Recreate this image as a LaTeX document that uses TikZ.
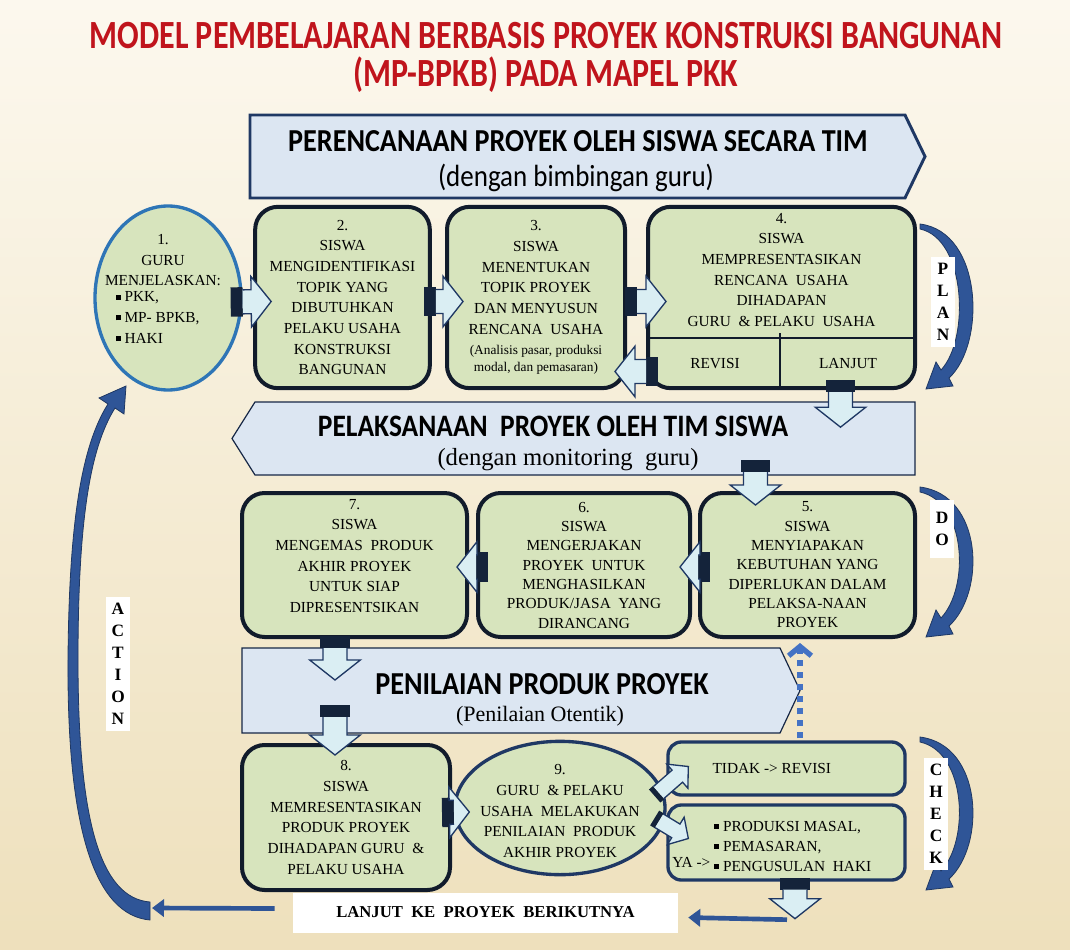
\documentclass[tikz,border=0pt]{standalone}
\usepackage{fontspec}
\setmainfont{Liberation Serif}
\newfontfamily\headfont[FakeStretch=0.88]{Carlito}
\newfontfamily\titlefont[FakeStretch=0.8]{Carlito}
\usetikzlibrary{calc,arrows.meta,shapes.geometric}

\definecolor{bgtop}{HTML}{FCF8EE}
\definecolor{bgbot}{HTML}{EEE0BC}
\definecolor{titlered}{HTML}{C0141C}
\definecolor{boxfill}{HTML}{D7E4BD}
\definecolor{boxline}{HTML}{111B2B}
\definecolor{navy}{HTML}{1F3864}
\definecolor{ringblue}{HTML}{2E75B6}
\definecolor{banfill}{HTML}{DCE6F2}
\definecolor{arrfill}{HTML}{DAEEF3}
\definecolor{arrdark}{HTML}{14233A}
\definecolor{cycblue}{HTML}{2F5597}
\definecolor{dotblue}{HTML}{4472C4}

\newcommand{\boxfont}{\fontsize{11.5}{15.5}\selectfont}
\newcommand{\smallfont}{\fontsize{10}{11.5}\selectfont}
\newcommand{\sqb}{\rule[0.15em]{0.32em}{0.32em}}

\def\baw{9pt}\def\bah{19pt}\def\bal{15pt}\def\bad{9pt}\def\bak{11pt}
\newcommand{\blkarrow}[2]{%
  \coordinate (bas) at (#1);
  \coordinate (bae) at (#2);
  \coordinate (bam) at ($(bas)!\bad!(bae)$);
  \coordinate (bah) at ($(bae)!\bal!(bas)$);
  \fill[arrdark] ($(bas)!\bak!90:(bae)$) -- ($(bam)!\bak!90:(bae)$) -- ($(bam)!\bak!-90:(bae)$) -- ($(bas)!\bak!-90:(bae)$) -- cycle;
  \draw[navy, line width=1pt, fill=arrfill, line join=miter] ($(bam)!\baw!90:(bae)$) -- ($(bah)!\baw!90:(bae)$) -- ($(bah)!\bah!90:(bae)$) -- (bae) -- ($(bah)!\bah!-90:(bae)$) -- ($(bah)!\baw!-90:(bae)$) -- ($(bam)!\baw!-90:(bae)$);
}
\newcommand{\cycarrow}[2]{%
  \pgfmathsetmacro\hh{#2-#1}
  \begin{scope}[shift={(0,#1)}]
  \fill[cyc] (920,0) .. controls (983,8) and (986,\hh-50) .. (949,\hh-16) -- (953,\hh-8) -- (926,\hh-5) -- (936,\hh-32) -- (941,\hh-24) .. controls (970,\hh-55) and (966,15) .. (920,5) -- cycle;
  \end{scope}
}

\tikzset{
  box/.style={draw=boxline, line width=3pt, fill=boxfill, rounded corners=17pt, align=center, font=\boxfont, inner sep=0pt},
  subbox/.style={draw=navy, line width=2.5pt, fill=boxfill, rounded corners=10pt, align=center, font=\boxfont, inner sep=0pt},
  boxtxt/.style={align=center, font=\boxfont, inner sep=0pt},
  banner/.style={fill=banfill, draw=navy!70!black, line width=0.9pt},
  banhead/.style={font=\headfont\bfseries\fontsize{24}{28}\selectfont, inner sep=0pt},
  bansub/.style={font=\fontsize{16.5}{20}\selectfont, inner sep=0pt},
  titletxt/.style={text=titlered, align=center, font=\titlefont\bfseries\fontsize{30}{28.5}\selectfont, inner sep=0pt},
  lbl/.style={fill=white, align=center, font=\bfseries\fontsize{13}{16.5}\selectfont, inner xsep=4pt, inner ysep=5pt},
  cyc/.style={fill=cycblue, draw=navy, line width=0.6pt},
  thinarr/.style={draw=cycblue, line width=3.5pt, -{Triangle[length=9pt,width=13pt]}},
  dotarr/.style={draw=dotblue, line width=4pt, dash pattern=on 5pt off 4pt, -{Straight Barb[length=7pt,width=17pt]}}
}

\begin{document}
\begin{tikzpicture}[x=0.75pt,y=-0.75pt]
\shade[top color=bgtop, bottom color=bgbot] (0,0) rectangle (1070,949);
\useasboundingbox (0,0) rectangle (1070,949);

\node[titletxt] (title) at (546,57) {MODEL PEMBELAJARAN BERBASIS PROYEK KONSTRUKSI BANGUNAN\\(MP-BPKB) PADA MAPEL PKK};

\draw[banner, draw=navy, line width=2.2pt] (250,115) -- (905,115) -- (925,156.5) -- (905,198) -- (250,198) -- cycle;
\node[banhead] (ban1) at (578,141) {PERENCANAAN PROYEK OLEH SISWA SECARA TIM};
\node[inner sep=0pt, font=\headfont\fontsize{23}{26}\selectfont] (ban1s) at (576,178) {(dengan bimbingan guru)};

\node[ellipse, draw=ringblue, line width=2.5pt, fill=boxfill, minimum width=109.5pt, minimum height=138pt] (c1) at (168,298) {};
\node[boxtxt] (c1t) at (163,292) {1.\\GURU\\MENJELASKAN:\\\begin{tabular}{@{}l@{}}\sqb\ PKK,\\ \sqb\ MP- BPKB,\\ \sqb\ HAKI\end{tabular}\hspace*{8pt}};

\node[box, minimum width=131pt, minimum height=136pt] (b2) at (342.5,297.5) {2.\\SISWA\\MENGIDENTIFIKASI\\TOPIK YANG\\DIBUTUHKAN\\PELAKU USAHA\\KONSTRUKSI\\BANGUNAN};
\node[box, minimum width=133.5pt, minimum height=136pt] (b3) at (536,297.5) {3.\\SISWA\\MENENTUKAN\\TOPIK PROYEK\\DAN MENYUSUN\\RENCANA\ \ USAHA\\{\smallfont (Analisis pasar, produksi}\\[-3pt]{\smallfont modal, dan pemasaran)}};
\node[box, minimum width=200.25pt, minimum height=136pt] (b4) at (781.5,297.5) {};
\node[boxtxt] (b4t) at (781.5,270) {4.\\SISWA\\MEMPRESENTASIKAN\\RENCANA\ \ USAHA\\DIHADAPAN\\GURU\ \ \& PELAKU\ \ USAHA};
\draw[boxline, line width=1pt] (648,338) -- (915,338);
\draw[boxline, line width=1pt] (780,333) -- (780,388);
\node[boxtxt] (rev) at (715,364) {REVISI};
\node[boxtxt] (lanj) at (848,364) {LANJUT};

\draw[banner] (255,402) -- (915,402) -- (915,475) -- (255,475) -- (232,438.5) -- cycle;
\node[banhead, font=\headfont\bfseries\fontsize{23.4}{27}\selectfont] (ban2) at (553,426) {PELAKSANAAN\ \ PROYEK OLEH TIM SISWA};
\node[bansub, font=\fontsize{18.5}{22}\selectfont] (ban2s) at (568,460) {(dengan monitoring\ \ guru)};

\node[box, minimum width=161.25pt, minimum height=108pt, font=\fontsize{11.5}{14.5}\selectfont] (b5) at (807.5,565) {5.\\SISWA\\MENYIAPAKAN\\KEBUTUHAN YANG\\DIPERLUKAN DALAM\\PELAKSA-NAAN\\PROYEK};
\node[box, minimum width=159pt, minimum height=108pt, font=\fontsize{11.5}{14.5}\selectfont] (b6) at (584,565) {6.\\SISWA\\MENGERJAKAN\\PROYEK\ \ UNTUK\\MENGHASILKAN\\PRODUK/JASA\ \ YANG\\DIRANCANG};
\node[box, minimum width=168.75pt, minimum height=108pt] (b7) at (354.5,565) {};
\node[boxtxt] (b7t) at (354.5,556) {7.\\SISWA\\MENGEMAS\ \ PRODUK\\AKHIR PROYEK\\UNTUK SIAP\\DIPRESENTSIKAN};

\draw[banner] (242,648) -- (780,648) -- (800,690.5) -- (780,733) -- (242,733) -- cycle;
\node[banhead] (ban3) at (542,684) {PENILAIAN PRODUK PROYEK};
\node[bansub] (ban3s) at (540,716) {(Penilaian Otentik)};

\node[box, minimum width=156pt, minimum height=108.75pt] (b8) at (346,817.5) {8.\\SISWA\\MEMRESENTASIKAN\\PRODUK PROYEK\\DIHADAPAN GURU\ \ \&\\PELAKU USAHA};
\node[ellipse, draw=navy, line width=2.5pt, fill=boxfill, minimum width=157.5pt, minimum height=100pt] (e9) at (560,808) {};
\node[boxtxt] (e9t) at (560,811) {9.\\GURU\ \ \& PELAKU\\USAHA\ \ MELAKUKAN\\PENILAIAN\ \ PRODUK\\AKHIR PROYEK};

\node[subbox, minimum width=177.75pt, minimum height=39.75pt] (tidak) at (786.5,768.5) {TIDAK -> REVISI\hspace*{22pt}};
\node[subbox, minimum width=177.75pt, minimum height=56.25pt] (ya) at (786.5,842.5) {};
\node[boxtxt, anchor=west] (yal) at (672,862) {YA ->};
\node[boxtxt, align=left, anchor=west, font=\fontsize{11.5}{15}\selectfont] (yab) at (714,846) {\sqb\ PRODUKSI MASAL,\\\sqb\ PEMASARAN,\\\sqb\ PENGUSULAN\ \ HAKI};

\node[fill=white, minimum width=288.75pt, minimum height=30pt, font=\bfseries\fontsize{12.5}{15}\selectfont] (lanjut) at (485.5,912.5) {LANJUT\ \ KE\ \ PROYEK\ \ BERIKUTNYA};

\blkarrow{$(c1.east)+(-12,4)$}{$(b2.west)+(18,4)$}
\blkarrow{$(b2.east)+(-8,4)$}{$(b3.west)+(18,4)$}
\blkarrow{$(b3.east)+(-2,4)$}{$(b4.west)+(20,4)$}
\blkarrow{$(b4.west)+(12,74)$}{$(b3.east)+(-12,74)$}
\blkarrow{$(b4.south)+(59,-10)$}{$(b4.south)+(59,37)$}
\blkarrow{$(b5.north)+(-52,-31)$}{$(b5.north)+(-52,14)$}
\blkarrow{$(b5.west)+(12,2)$}{$(b6.east)+(-12,2)$}
\blkarrow{$(b6.west)+(12,2)$}{$(b7.east)+(-12,2)$}
\blkarrow{$(b7.south)+(-19.5,-3)$}{$(b7.south)+(-19.5,41)$}
\blkarrow{$(b8.north)+(-11,-38)$}{$(b8.north)+(-11,12)$}
\blkarrow{$(b8.east)+(-10,-5)$}{$(e9.west)+(16,4)$}
\blkarrow{$(ya.south)+(8.5,-4)$}{$(ya.south)+(8.5,37)$}
\def\baw{6pt}\def\bah{12pt}\def\bal{11pt}\def\bad{4pt}\def\bak{6.5pt}
\blkarrow{$(e9.east)+(-12,-12)$}{$(tidak.west)+(22,-2)$}
\blkarrow{$(e9.east)+(-12,10)$}{$(ya.west)+(22,-4)$}

\draw[dotarr] ($(tidak.north)+(13.5,-2)$) -- ($(b5.south)+(-7.5,4)$);

\coordinate (actb) at (152,908);
\draw[thinarr] ($(ya.south)+(0.5,38)$) -- ($(lanjut.east)+(10,5)$);
\draw[thinarr] ($(lanjut.west)+(-18,-4)$) -- (actb);

\cycarrow{224}{394}
\cycarrow{487}{642}
\cycarrow{737}{895}
\fill[cyc] (150,920) .. controls (95,915) and (67,830) .. (68,660) .. controls (69,520) and (82,445) .. (108,404) -- (99,398) -- (126,386) -- (124,414) -- (115,408) .. controls (90,448) and (78,520) .. (78,660) .. controls (78,820) and (100,898) .. (150,902) -- cycle;

\node[lbl] (plan) at (943,302) {P\\L\\A\\N};
\node[lbl, inner ysep=9pt] (do) at (942,529) {D\\O};
\node[lbl] (check) at (936,814) {C\\H\\E\\C\\K};
\node[lbl] (action) at (118,664) {A\\C\\T\\I\\O\\N};
\end{tikzpicture}
\end{document}
